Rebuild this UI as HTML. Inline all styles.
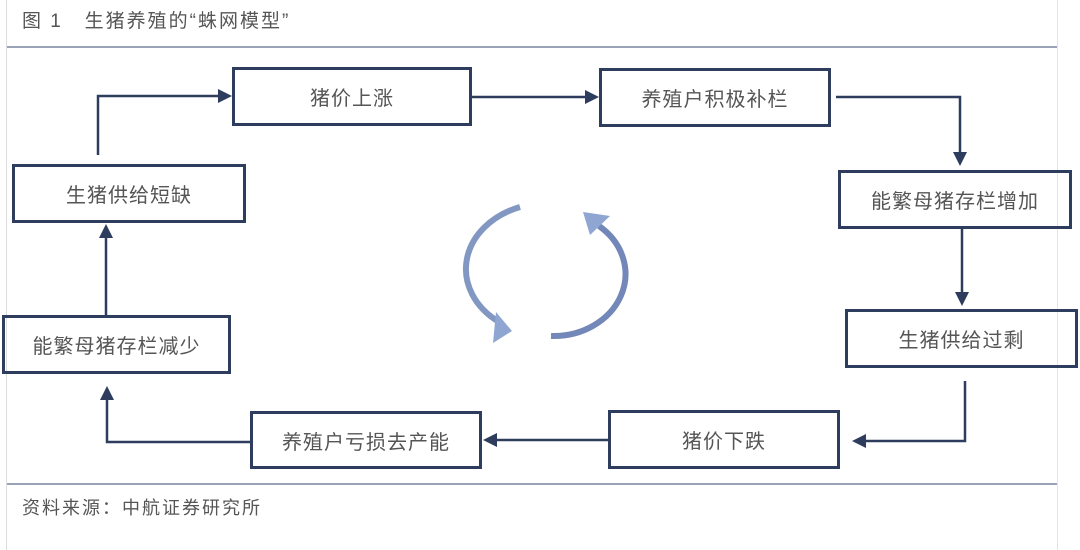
<!DOCTYPE html>
<html><head><meta charset="utf-8"><style>
body{margin:0;width:1080px;height:550px;background:#fff;overflow:hidden;position:relative;font-family:"Liberation Sans","Noto Sans CJK SC",sans-serif;}
.t{position:absolute;color:#555;font-size:19px;letter-spacing:2px;}
.b{position:absolute;box-sizing:border-box;border:3px solid #2e3d5e;display:flex;align-items:center;justify-content:center;color:#555;font-size:20px;letter-spacing:1px;}
</style></head><body>
<div class="t" style="left:22px;top:6px;">图 1&nbsp;&nbsp;&nbsp;生猪养殖的“蛛网模型”</div>
<div style="position:absolute;left:7px;top:46px;width:1051px;height:2px;background:#9aa3b8"></div>
<div style="position:absolute;left:7px;top:483px;width:1051px;height:2px;background:#9aa3b8"></div>
<div style="position:absolute;left:6px;top:0;width:1px;height:550px;background:#ddd"></div>
<div style="position:absolute;left:1057px;top:0;width:1px;height:550px;background:#e4e4e4"></div>
<div class="t" style="left:22px;top:494px;font-size:18px;">资料来源：中航证券研究所</div>

<div class="b" style="left:232px;top:67px;width:240px;height:59px;">猪价上涨</div>
<div class="b" style="left:599px;top:68px;width:232px;height:59px;">养殖户积极补栏</div>
<div class="b" style="left:838px;top:170px;width:234px;height:59px;">能繁母猪存栏增加</div>
<div class="b" style="left:845px;top:309px;width:233px;height:59px;">生猪供给过剩</div>
<div class="b" style="left:608px;top:410px;width:232px;height:59px;">猪价下跌</div>
<div class="b" style="left:250px;top:411px;width:232px;height:58px;">养殖户亏损去产能</div>
<div class="b" style="left:2px;top:315px;width:229px;height:59px;">能繁母猪存栏减少</div>
<div class="b" style="left:12px;top:164px;width:234px;height:59px;">生猪供给短缺</div>

<svg width="1080" height="550" style="position:absolute;left:0;top:0">
<g stroke="#2e3d5e" stroke-width="2.5" fill="none">
<polyline points="98,155 98,96 218,96"/>
<line x1="472" y1="97" x2="585" y2="97"/>
<polyline points="836,97 960,97 960,152"/>
<line x1="962" y1="229" x2="962" y2="292"/>
<polyline points="965,381 965,441 866,441"/>
<line x1="608" y1="440" x2="497" y2="440"/>
<polyline points="250,442 107,442 107,400"/>
<line x1="106" y1="315" x2="106" y2="238"/>
</g>
<g fill="#2e3d5e">
<polygon points="218,89 232,96 218,103"/>
<polygon points="585,90 599,97 585,104"/>
<polygon points="953,152 967,152 960,166"/>
<polygon points="955,292 969,292 962,306"/>
<polygon points="866,434 852,441 866,448"/>
<polygon points="497,433 483,440 497,447"/>
<polygon points="100,400 114,400 107,386"/>
<polygon points="99,238 113,238 106,224"/>
</g>
<path d="M520,207 A82,66 0 0 0 499,322" fill="none" stroke="#8298c2" stroke-width="6"/>
<polygon points="496,312 512,331 493,343" fill="#8fa6d2"/>
<path d="M551,336 A72,62 0 0 0 599,226" fill="none" stroke="#7388b8" stroke-width="6"/>
<polygon points="583,212 590,235 610,216" fill="#8fa6d2"/>
</svg>
</body></html>
